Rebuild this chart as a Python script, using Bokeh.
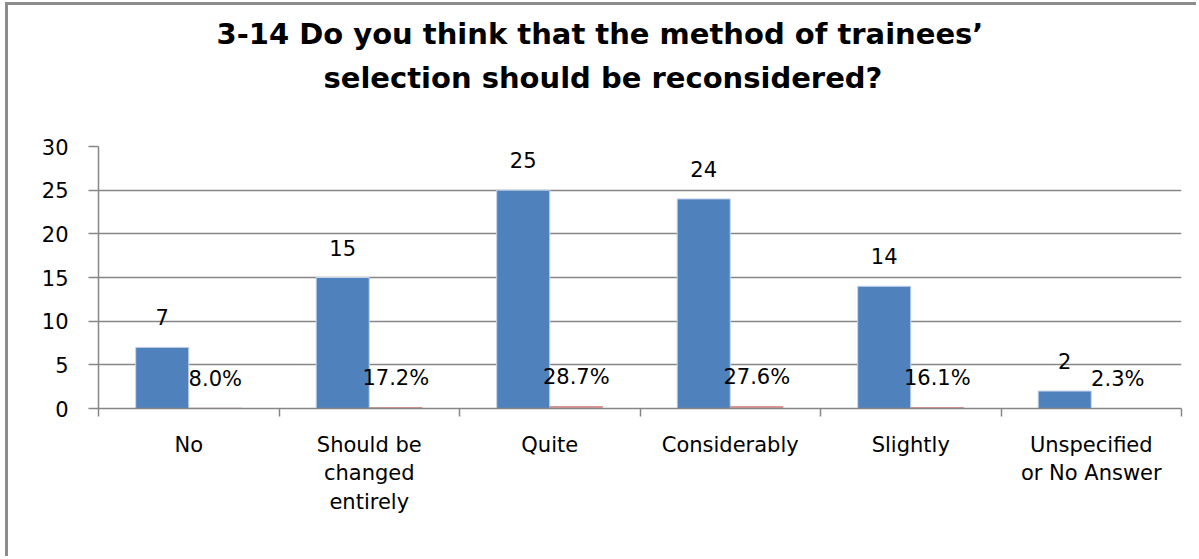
from bokeh.plotting import figure
from bokeh.models import Range1d, FixedTicker, ColumnDataSource, Title
from bokeh.core.properties import value
from bokeh.embed import file_html
from bokeh.resources import INLINE

# ---- data ----
categories = ["No", "Should be\nchanged\nentirely", "Quite", "Considerably",
              "Slightly", "Unspecified\nor No Answer"]
counts = [7, 15, 25, 24, 14, 2]
percents = [8.0, 17.2, 28.7, 27.6, 16.1, 2.3]
y_ticks = [0, 5, 10, 15, 20, 25, 30]
title_line1 = "3-14 Do you think that the method of trainees\u2019"
title_line2 = "selection should be reconsidered?"

FONT = "DejaVu Sans"
GRAY = "#868686"
BLUE = "#4F81BD"
RED = "#C0504D"

n = len(categories)
centers = [i + 0.5 for i in range(n)]
bw = 0.294
blue_x = [c - bw / 2 for c in centers]
red_x = [c + bw / 2 for c in centers]

src = ColumnDataSource(dict(
    bx=blue_x, rx=red_x, cnt=counts,
    pct=[v / 100.0 for v in percents],
    cnt_txt=[str(v) for v in counts],
    pct_txt=[f"{v:.1f}%" for v in percents],
))

p = figure(width=1191, height=554,
           x_range=Range1d(0, n), y_range=Range1d(0, 30),
           output_backend="svg", toolbar_location=None,
           min_border_left=90, min_border_right=18,
           min_border_top=141, min_border_bottom=151)
p.styles = {"margin-left": "5px", "margin-top": "2px",
            "border-left": "3px solid #8c8c8c", "border-top": "3px solid #8c8c8c"}
p.outline_line_color = None
p.background_fill_color = "white"
p.border_fill_color = "white"

# title (two lines, each centred); panels stack from the frame outwards
def style_title(t, txt, off, standoff):
    t.text = txt
    t.align = "left"
    t.offset = off
    t.standoff = standoff
    t.text_font = FONT
    t.text_font_style = "bold"
    t.text_font_size = "29px"
    t.text_color = "black"

spacer = Title(text=" ", text_font_size="1px", standoff=44)
p.add_layout(spacer, "above")
t2 = Title()
style_title(t2, title_line2, 225, 10)
p.add_layout(t2, "above")
style_title(p.title, title_line1, 118, 6)

p.vbar(x="bx", top="cnt", bottom=0, width=bw, source=src,
       fill_color=BLUE, line_color="#c5d5ea", line_width=1)
p.vbar(x="rx", top="pct", bottom=0, width=bw, source=src,
       fill_color=RED, line_color=None, fill_alpha=0.6)

p.text(x="bx", y="cnt", text="cnt_txt", source=src, text_align="center",
       text_baseline="alphabetic", y_offset=-30, text_font=value(FONT),
       text_font_size="21px", text_color="black")
p.text(x="rx", y="pct", text="pct_txt", source=src, text_align="center",
       text_baseline="alphabetic", y_offset=-29, text_font=value(FONT),
       text_font_size="21px", text_color="black")

# y axis
ya = p.yaxis[0]
ya.ticker = FixedTicker(ticks=y_ticks)
ya.axis_line_color = GRAY
ya.axis_line_width = 1.5
ya.major_tick_line_color = GRAY
ya.major_tick_line_width = 1.5
ya.major_tick_out = 10
ya.major_tick_in = 0
ya.minor_tick_line_color = None
ya.major_label_standoff = 20
ya.major_label_text_font = FONT
ya.major_label_text_font_size = "21px"
ya.major_label_text_color = "black"

# x axis
xa = p.xaxis[0]
xa.ticker = FixedTicker(ticks=centers, minor_ticks=list(range(n + 1)))
xa.major_label_overrides = {c: lab for c, lab in zip(centers, categories)}
xa.axis_line_color = GRAY
xa.axis_line_width = 1.5
xa.major_tick_line_color = None
xa.major_tick_out = 0
xa.major_tick_in = 0
xa.minor_tick_line_color = GRAY
xa.minor_tick_line_width = 1.5
xa.minor_tick_out = 8
xa.minor_tick_in = 0
xa.major_label_standoff = 16
xa.major_label_text_font = FONT
xa.major_label_text_font_size = "21px"
xa.major_label_text_line_height = 1.2
xa.major_label_text_color = "black"

p.xgrid.grid_line_color = None
p.ygrid.ticker = FixedTicker(ticks=y_ticks)
p.ygrid.grid_line_color = GRAY
p.ygrid.grid_line_width = 1.5

open("out.html", "w").write(file_html(p, INLINE))
